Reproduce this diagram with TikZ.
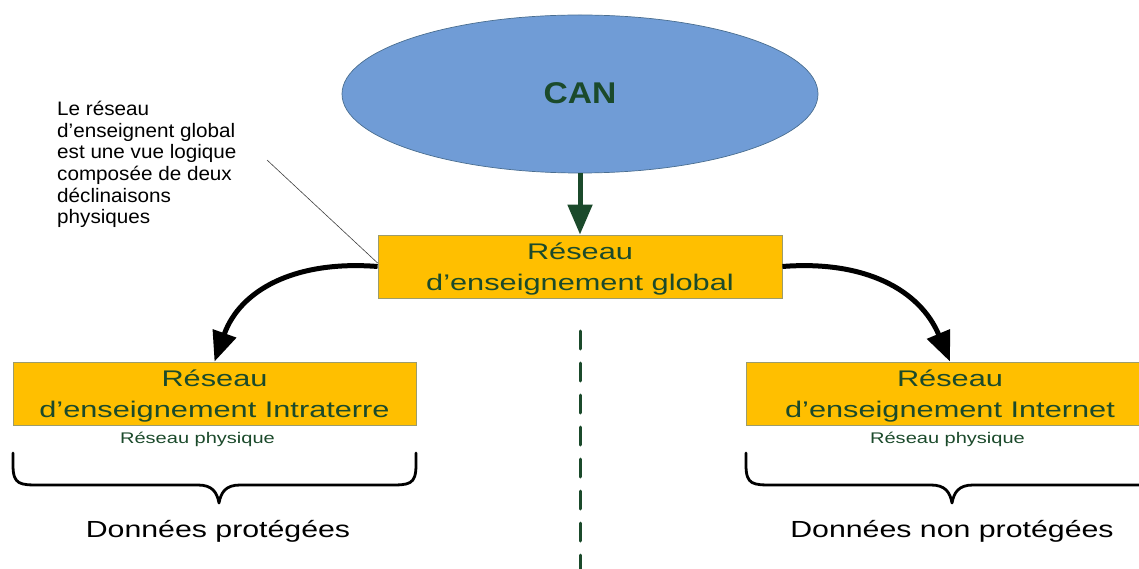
\documentclass[tikz,border=0pt]{standalone}
\usepackage{fontspec}
\setmainfont{Liberation Sans}
\newfontfamily\boxfont{Liberation Sans}[FakeStretch=1.36]
\newfontfamily\physfont{Liberation Sans}[FakeStretch=1.3]
\newfontfamily\canfont{Liberation Sans}[FakeStretch=1.12]
\newfontfamily\annfont{Liberation Sans}[FakeStretch=1.06]
\usetikzlibrary{arrows.meta,shapes.geometric,calc}
\definecolor{dkgreen}{HTML}{1B4A2B}
\definecolor{goldfill}{HTML}{FFBF00}
\definecolor{ellfill}{HTML}{709CD6}
\definecolor{elldraw}{HTML}{4A6E90}
\definecolor{boxline}{HTML}{9C9C6C}
\begin{document}
\begin{tikzpicture}[x=1pt,y=-1pt,
  netbox/.style={rectangle, draw=boxline, fill=goldfill, line width=0.8pt, minimum height=63pt, inner sep=0pt},
  boxtext/.style={text=dkgreen, align=center, inner sep=0pt, font=\boxfont\fontsize{22.6}{31}\selectfont},
  phystext/.style={text=dkgreen, inner sep=0pt, font=\physfont\fontsize{15.4}{18}\selectfont},
  datatext/.style={text=black, inner sep=0pt, font=\physfont\fontsize{23.3}{28}\selectfont},
  bigarrow/.style={line width=5pt, -{Triangle[length=30pt,width=24pt]}},
  bracepath/.style={line width=2.8pt, black, line join=round, line cap=round}
]
\useasboundingbox (0,0) rectangle (1139,569);
\clip (0,0) rectangle (1139,569);

% CAN ellipse
\node[ellipse, fill=ellfill, draw=elldraw, line width=0.7pt, minimum width=476pt, minimum height=158pt, inner sep=0pt] (can) at (580,94) {};
\node[anchor=base, inner sep=0pt, text=dkgreen, font=\canfont\bfseries\fontsize{30}{36}\selectfont] (cantxt) at (580,103.3) {CAN};

% boxes
\node[netbox, minimum width=404pt] (glob) at (580,266.5) {};
\node[netbox, minimum width=403pt] (lbox) at (214.5,393.5) {};
\node[netbox, minimum width=408pt] (rbox) at (950,393.5) {};

\node[boxtext, anchor=base] (globtxt) at (580,290) {Réseau\\d’enseignement global};
\node[boxtext, anchor=base] (ltxt) at (214.5,417) {Réseau\\d’enseignement Intraterre};
\node[boxtext, anchor=base] (rtxt) at (950,417) {Réseau\\d’enseignement Internet};

\node[phystext, anchor=base] (lphys) at (197.5,443) {Réseau physique};
\node[phystext, anchor=base] (rphys) at (947.5,443) {Réseau physique};

\node[datatext, anchor=base] (ldata) at (218,537) {Données protégées};
\node[datatext, anchor=base] (rdata) at (952,537) {Données non protégées};

% annotation
\node[anchor=base west, align=left, inner sep=0pt, font=\annfont\fontsize{19.5}{21.5}\selectfont] (ann) at (57,223.5) {Le réseau\\d’enseignent global\\est une vue logique\\composée de deux\\déclinaisons\\physiques};
\coordinate (annpt) at (267,160);
\draw[line width=0.6pt, black!75] (annpt) -- ([yshift=3.5pt]glob.west);

% arrows
\draw[bigarrow, dkgreen] (glob.north |- can.south) -- (glob.north);
\draw[bigarrow, black] (glob.west) .. controls (295,260) and (240,290) .. (lbox.north);
\draw[bigarrow, black] (glob.east) .. controls (865,260) and (920,290) .. (rbox.north);

% dashed separator
\coordinate (sepTop) at (580,331);
\coordinate (sepBot) at (580,580);
\draw[dkgreen, line width=3pt, line cap=round, dash pattern=on 18pt off 14pt] (sepTop) -- (sepBot);

% braces
\draw[bracepath] (13,453) -- (13,465) .. controls (13,485) and (20,485) .. (40,485) -- (198,485) .. controls (212,485) and (217,492) .. (219,503) .. controls (221,492) and (226,485) .. (240,485) -- (389,485) .. controls (409,485) and (416,485) .. (416,465) -- (416,453);
\draw[bracepath] (746,453) -- (746,465) .. controls (746,485) and (753,485) .. (773,485) -- (931,485) .. controls (945,485) and (950,492) .. (952,503) .. controls (954,492) and (959,485) .. (973,485) -- (1131,485) .. controls (1151,485) and (1158,485) .. (1158,465) -- (1158,453);
\end{tikzpicture}
\end{document}
